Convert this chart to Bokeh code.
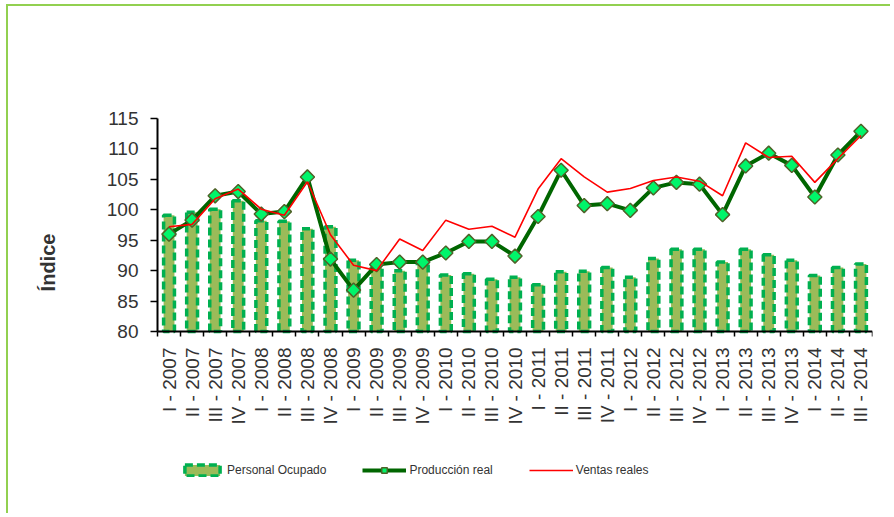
import math
from bokeh.plotting import figure
from bokeh.models import (ColumnDataSource, FixedTicker, SingleIntervalTicker, Range1d,
                          Legend, LegendItem, Label)
from bokeh.embed import file_html
from bokeh.resources import INLINE

categories = [
    "I - 2007", "II - 2007", "III - 2007", "IV - 2007",
    "I - 2008", "II - 2008", "III - 2008", "IV - 2008",
    "I - 2009", "II - 2009", "III - 2009", "IV - 2009",
    "I - 2010", "II - 2010", "III - 2010", "IV - 2010",
    "I - 2011", "II - 2011", "III - 2011", "IV - 2011",
    "I - 2012", "II - 2012", "III - 2012", "IV - 2012",
    "I - 2013", "II - 2013", "III - 2013", "IV - 2013",
    "I - 2014", "II - 2014", "III - 2014",
]
personal_ocupado = [99.1, 99.6, 100.1, 101.5, 98.2, 98.1, 96.9, 97.2, 91.7, 90.5, 90.0,
                    91.2, 89.3, 89.5, 88.6, 88.9, 87.7, 89.8, 89.9, 90.5, 88.9, 92.0,
                    93.5, 93.5, 91.4, 93.5, 92.6, 91.7, 89.2, 90.5, 91.1]
produccion_real = [96.0, 98.3, 102.3, 103.0, 99.3, 99.7, 105.4, 91.9, 86.8, 91.0, 91.4,
                   91.4, 92.9, 94.8, 94.8, 92.4, 98.9, 106.5, 100.7, 101.0, 99.9, 103.6,
                   104.5, 104.2, 99.2, 107.2, 109.3, 107.3, 102.1, 109.0, 112.9]
ventas_reales = [97.2, 97.6, 101.8, 103.4, 100.1, 99.1, 104.6, 95.9, 90.9, 90.0, 95.2,
                 93.3, 98.3, 96.8, 97.3, 95.5, 103.4, 108.4, 105.4, 102.9, 103.5, 104.8,
                 105.4, 104.7, 102.3, 111.0, 108.6, 108.8, 104.5, 108.4, 112.2]
y_min, y_max, y_step = 80, 115, 5

FONT = "Liberation Sans"
n = len(categories)
xs = list(range(n))

# layout (pixels): the frame is extended around the axes so that the axis title,
# the tick labels and the legend all live inside it
AXIS_PX = 213          # height of the 80..115 value axis
BELOW_PX = 174         # frame space below the category axis
TOP_PX = 14            # frame space above the value axis
CAT_PX = 715 / n       # width of one category
LEFT_PX = 144          # frame space left of the value axis
unit_px = AXIS_PX / (y_max - y_min)
y_start = y_min - BELOW_PX / unit_px
y_end = y_max + TOP_PX / unit_px
x_start = -0.5 - LEFT_PX / CAT_PX

src = ColumnDataSource(dict(x=xs, cat=categories, po=personal_ocupado,
                            pr=produccion_real, vr=ventas_reales))

p = figure(width=884, height=509, output_backend="svg", toolbar_location=None,
           x_range=Range1d(x_start, n - 0.5), y_range=Range1d(y_start, y_end),
           min_border_left=5, min_border_top=112 - TOP_PX, min_border_right=20,
           min_border_bottom=10)
p.margin = (4, 0, 0, 6)
p.styles = {"border-top": "2px solid #92D050", "border-left": "2px solid #92D050"}
p.outline_line_color = None
p.grid.visible = False
p.background_fill_color = "white"
p.border_fill_color = "white"

bars = p.vbar(x="x", top="po", bottom=y_min, width=0.47, source=src,
              fill_color="#9BBB59", line_color="#00B050", line_width=3.5,
              line_dash="8 4")
line_pr = p.line(x="x", y="pr", source=src, line_color="#006600", line_width=4)
mk_pr = p.scatter(x="x", y="pr", source=src, marker="square", angle=math.pi / 4,
                  size=10, fill_color="#00F56A", line_color="#4F6228", line_width=1.5)
line_vr = p.line(x="x", y="vr", source=src, line_color="#FF0000", line_width=1.6)

# x axis: labels at category centres, tick marks at category boundaries
xa = p.xaxis[0]
xa.fixed_location = y_min
xa.bounds = (-0.5, n - 0.5)
xa.ticker = FixedTicker(ticks=xs, minor_ticks=[i - 0.5 for i in range(n + 1)])
xa.major_label_overrides = {i: c for i, c in zip(xs, categories)}
xa.major_label_orientation = math.pi / 2
xa.major_tick_out = 0
xa.major_tick_in = 0
xa.minor_tick_out = 5
xa.minor_tick_in = 0
xa.minor_tick_line_color = "black"
xa.minor_tick_line_width = 1.5
xa.major_label_standoff = 11
xa.major_label_text_font = FONT
xa.major_label_text_font_size = "19px"
xa.major_label_text_color = "#333333"
xa.axis_line_color = "black"
xa.axis_line_width = 2

ya = p.yaxis[0]
ya.fixed_location = -0.5
ya.bounds = (y_min, y_max)
ya.ticker = SingleIntervalTicker(interval=y_step, num_minor_ticks=0)
ya.major_tick_out = 7
ya.major_tick_in = 0
ya.major_tick_line_width = 1.5
ya.major_tick_line_color = "black"
ya.minor_tick_line_color = None
ya.major_label_standoff = 12
ya.major_label_text_font = FONT
ya.major_label_text_font_size = "19px"
ya.major_label_text_color = "#333333"
ya.axis_line_color = "black"
ya.axis_line_width = 2

p.add_layout(Label(x=34, y=243, x_units="screen", y_units="screen", text="Índice",
                   angle=math.pi / 2, text_align="center", text_baseline="middle",
                   text_font=FONT, text_font_style="bold", text_font_size="20px",
                   text_color="#333333"))

legend = Legend(items=[
    LegendItem(label="Personal Ocupado", renderers=[bars]),
    LegendItem(label="Producción real", renderers=[line_pr, mk_pr]),
    LegendItem(label="Ventas reales", renderers=[line_vr]),
], orientation="horizontal", location=(167, 28), spacing=36, glyph_width=44,
    glyph_height=14, label_standoff=3, padding=5, border_line_color=None,
    background_fill_alpha=0, label_text_font=FONT, label_text_font_size="12px",
    label_text_color="#333333")
p.add_layout(legend, "center")

open("out.html", "w").write(file_html(p, INLINE))
